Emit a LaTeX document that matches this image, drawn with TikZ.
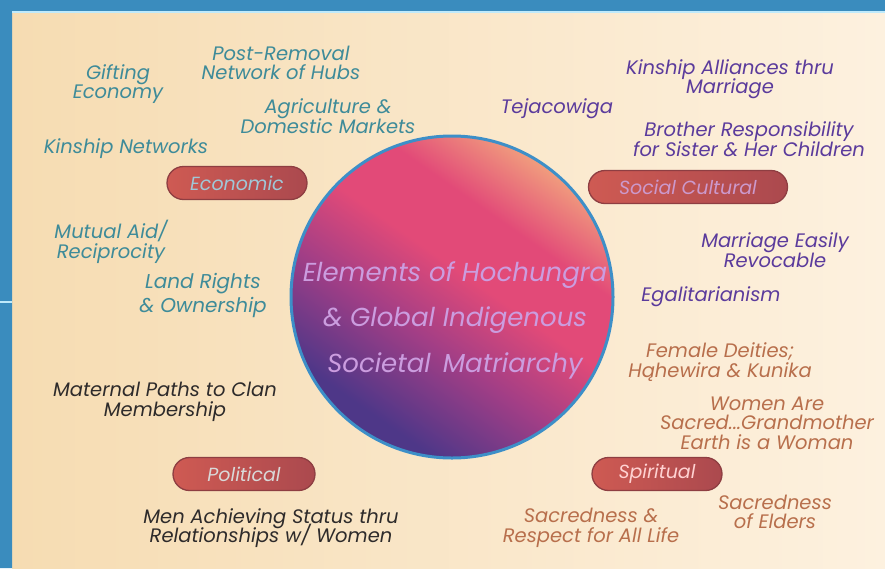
\documentclass[tikz,border=0pt]{standalone}
\usepackage{fontspec}
\setmainfont{Poppins}
\usetikzlibrary{shapes.misc}
\setlength{\lineskiplimit}{-100pt}

\definecolor{frameblue}{HTML}{3A8CBE}
\definecolor{bgleft}{HTML}{F6DCB2}
\definecolor{bgright}{HTML}{FDF1DF}
\definecolor{ring}{HTML}{3D8FC8}
\definecolor{econ}{HTML}{3E8B99}
\definecolor{soc}{HTML}{5B3B9C}
\definecolor{pol}{HTML}{2E2B2B}
\definecolor{spir}{HTML}{B86F4C}
\definecolor{pillline}{HTML}{8E3E42}
\definecolor{pillfill}{HTML}{C9565C}
\definecolor{hubpeach}{HTML}{F2A57E}
\definecolor{hubpink}{HTML}{E24A78}
\definecolor{hubplum}{HTML}{A13E86}
\definecolor{hubpurple}{HTML}{4E3788}
\definecolor{titletext}{HTML}{CB9DDF}

\pgfdeclareverticalshading{hubshade}{100bp}{color(0bp)=(hubpurple); color(28bp)=(hubpurple);
  color(42bp)=(hubplum); color(54bp)=(hubpink); color(64bp)=(hubpink); color(76bp)=(hubpeach); color(100bp)=(hubpeach)}

\tikzset{
  lab/.style={align=center,inner sep=0pt,font=\fontsize{19.5}{19.5}\selectfont\itshape},
  pill/.style={rounded rectangle,draw=pillline,line width=1.3pt,inner sep=0pt,
    minimum height=33pt,left color=pillfill!90!orange,right color=pillfill!85!black,
    font=\fontsize{19}{19}\selectfont\itshape}
}

\begin{document}
\begin{tikzpicture}[x=1pt,y=-1pt]
  \useasboundingbox (0,0) rectangle (885,568);
  % background and frame
  \fill[left color=bgleft,right color=bgright] (12,11) rectangle (885,568);
  \fill[frameblue] (0,0) rectangle (885,11) (0,0) rectangle (12,568);
  \draw[cyan!25,line width=1.5pt] (12,12) -- (885,12) (0,302) -- (12,302);
  % centre
  \node[circle,minimum size=322pt,draw=ring,line width=3pt,shading=hubshade,shading angle=-35] (hub) at (452,297) {};
  \node[align=center,text=titletext,font=\fontsize{26}{45.5}\selectfont\itshape] (title) at (455,320)
    {Elements of Hochungra\\\& Global Indigenous\\Societal\, Matriarchy};
  % categories
  \node[pill,minimum width=140pt,text=gray!55!cyan!60!white] (econpill) at (237,183) {Economic};
  \node[pill,minimum width=199pt,text=violet!40!white] (socpill) at (688,187) {Social Cultural};
  \node[pill,minimum width=142pt,text=gray!30!white] (polpill) at (244,474) {Political};
  \node[pill,minimum width=130pt,text=pink!70!white] (spirpill) at (657,474) {Spiritual};
  % elements
  \foreach \n/\x/\y/\t in {gift/118/84/{Gifting\\Economy}, hubs/281/63/{Post-Removal\\Network of Hubs},
    agri/328/116/{Agriculture \&\\Domestic Markets}, kinnet/126/149/{Kinship Networks},
    mutual/111/242/{Mutual Aid/\\Reciprocity}}
    \node[lab,text=econ] (\n) at (\x,\y) {\t};
  \node[lab,text=econ,font=\fontsize{20}{24}\selectfont\itshape] (land) at (203,295) {Land Rights\\\& Ownership};
  \foreach \n/\x/\y/\t in {alliance/730/79/{Kinship Alliances thru\\Marriage}, teja/557/109/{Tejacowiga},
    brother/749/139/{Brother Responsibility\\for Sister \& Her Children}, revoc/775/250/{Marriage Easily\\Revocable},
    egal/711/297/{Egalitarianism}}
    \node[lab,text=soc] (\n) at (\x,\y) {\t};
  \foreach \n/\x/\y/\t in {clan/165/402/{Maternal Paths to Clan\\Membership},
    status/271/528/{Men Achieving Status thru\\Relationships w/ Women}}
    \node[lab,text=pol] (\n) at (\x,\y) {\t};
  \foreach \n/\x/\y/\t in {deity/720/362/{Female Deities;\\Hąhewira \& Kunika},
    sacred/767/423/{Women Are\\Sacred...Grandmother\\Earth is a Woman},
    life/591/528/{Sacredness \&\\Respect for All Life}, elders/775/512/{Sacredness\\of Elders}}
    \node[lab,text=spir] (\n) at (\x,\y) {\t};
\end{tikzpicture}
\end{document}
